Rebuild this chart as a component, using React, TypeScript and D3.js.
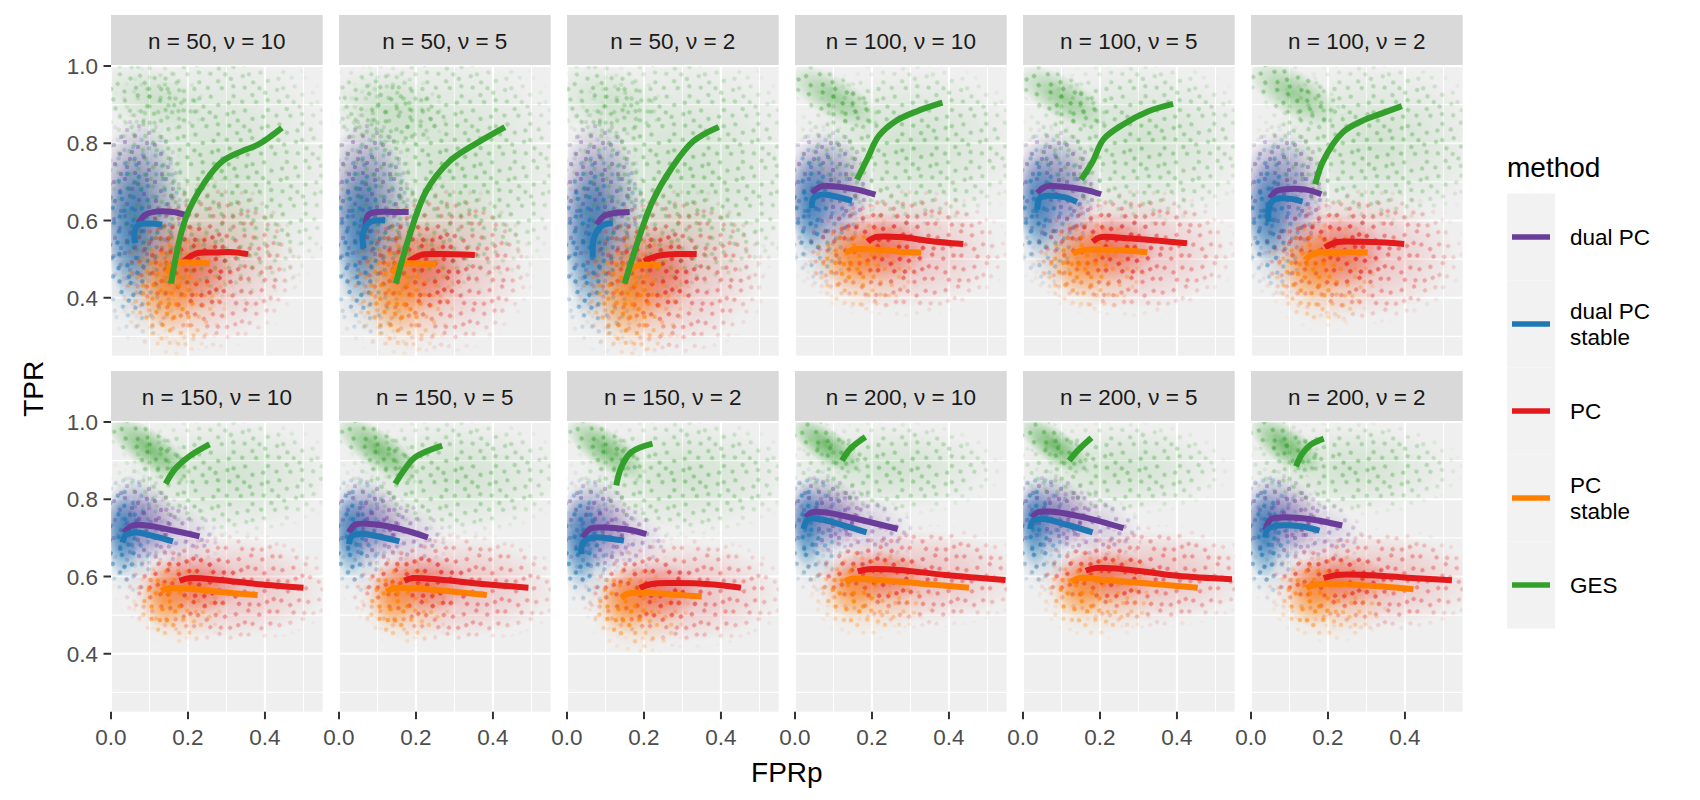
import * as d3 from 'd3'

// ---- data ----
const sampleSizes = [50, 50, 50, 100, 100, 100, 150, 150, 150, 200, 200, 200]
const nuValues = [10, 5, 2, 10, 5, 2, 10, 5, 2, 10, 5, 2]

const methodNames = ['dual PC', 'dual PC stable', 'PC', 'PC stable', 'GES']
const methodLabelLines = [['dual PC'], ['dual PC', 'stable'], ['PC'], ['PC', 'stable'], ['GES']]
const methodColors = ['#6A3D9A', '#1F78B4', '#E31A1C', '#FF7F00', '#33A02C']

const xTicks = [0, 0.2, 0.4]
const xMinor = [0.1, 0.3, 0.5]
const yTicks = [0.4, 0.6, 0.8, 1.0]
const yMinor = [0.3, 0.5, 0.7, 0.9]

// smoothed curves, one list of [FPRp, TPR] per facet
const lineDualPC: number[][][] = [
  [[0.072, 0.593], [0.089, 0.615], [0.117, 0.623], [0.161, 0.622], [0.192, 0.615]],
  [[0.068, 0.576], [0.076, 0.615], [0.098, 0.622], [0.142, 0.622], [0.181, 0.622]],
  [[0.078, 0.589], [0.094, 0.61], [0.122, 0.619], [0.163, 0.622]],
  [[0.044, 0.671], [0.067, 0.688], [0.106, 0.688], [0.161, 0.68], [0.209, 0.667]],
  [[0.037, 0.671], [0.059, 0.688], [0.098, 0.688], [0.159, 0.68], [0.203, 0.668]],
  [[0.05, 0.658], [0.064, 0.675], [0.092, 0.681], [0.142, 0.68], [0.183, 0.668]],
  [[0.033, 0.714], [0.056, 0.732], [0.094, 0.732], [0.161, 0.719], [0.23, 0.704]],
  [[0.026, 0.714], [0.042, 0.734], [0.081, 0.736], [0.159, 0.723], [0.231, 0.701]],
  [[0.041, 0.701], [0.059, 0.723], [0.089, 0.727], [0.15, 0.723], [0.206, 0.71]],
  [[0.028, 0.753], [0.044, 0.766], [0.078, 0.766], [0.161, 0.749], [0.267, 0.723]],
  [[0.024, 0.753], [0.037, 0.766], [0.07, 0.768], [0.159, 0.753], [0.261, 0.725]],
  [[0.037, 0.719], [0.052, 0.749], [0.083, 0.753], [0.15, 0.749], [0.237, 0.732]],
]
const lineDualPCStable: number[][][] = [
  [[0.063, 0.541], [0.061, 0.571], [0.072, 0.589], [0.1, 0.592], [0.133, 0.589]],
  [[0.064, 0.528], [0.062, 0.563], [0.076, 0.593], [0.098, 0.6], [0.12, 0.6]],
  [[0.067, 0.506], [0.069, 0.55], [0.083, 0.58], [0.1, 0.591], [0.119, 0.593]],
  [[0.044, 0.632], [0.048, 0.658], [0.072, 0.667], [0.111, 0.661], [0.148, 0.651]],
  [[0.037, 0.628], [0.044, 0.658], [0.07, 0.664], [0.109, 0.66], [0.14, 0.648]],
  [[0.046, 0.597], [0.048, 0.64], [0.064, 0.656], [0.103, 0.656], [0.134, 0.649]],
  [[0.03, 0.688], [0.039, 0.708], [0.067, 0.714], [0.117, 0.703], [0.161, 0.691]],
  [[0.026, 0.684], [0.033, 0.705], [0.059, 0.711], [0.114, 0.701], [0.157, 0.691]],
  [[0.037, 0.658], [0.042, 0.688], [0.067, 0.701], [0.111, 0.698], [0.148, 0.693]],
  [[0.022, 0.723], [0.033, 0.747], [0.061, 0.749], [0.128, 0.732], [0.186, 0.714]],
  [[0.019, 0.723], [0.026, 0.744], [0.053, 0.749], [0.114, 0.734], [0.181, 0.714]],
  [[0.037, 0.701], [0.044, 0.723], [0.072, 0.732], [0.128, 0.73], [0.178, 0.719]],
]
const linePC: number[][][] = [
  [[0.189, 0.494], [0.222, 0.515], [0.272, 0.517], [0.317, 0.518], [0.356, 0.513]],
  [[0.181, 0.494], [0.214, 0.511], [0.259, 0.513], [0.353, 0.511]],
  [[0.2, 0.494], [0.233, 0.508], [0.283, 0.513], [0.337, 0.513]],
  [[0.189, 0.545], [0.206, 0.556], [0.272, 0.557], [0.35, 0.547], [0.437, 0.539]],
  [[0.181, 0.545], [0.201, 0.557], [0.27, 0.554], [0.348, 0.548], [0.426, 0.541]],
  [[0.192, 0.53], [0.22, 0.543], [0.281, 0.545], [0.348, 0.543], [0.398, 0.539]],
  [[0.178, 0.589], [0.206, 0.596], [0.283, 0.591], [0.383, 0.58], [0.5, 0.571]],
  [[0.17, 0.589], [0.192, 0.596], [0.27, 0.591], [0.381, 0.58], [0.492, 0.571]],
  [[0.189, 0.57], [0.217, 0.58], [0.272, 0.583], [0.372, 0.58], [0.452, 0.571]],
  [[0.163, 0.613], [0.191, 0.619], [0.269, 0.617], [0.391, 0.604], [0.547, 0.591]],
  [[0.163, 0.615], [0.19, 0.622], [0.279, 0.617], [0.4, 0.602], [0.543, 0.593]],
  [[0.189, 0.596], [0.222, 0.604], [0.294, 0.604], [0.406, 0.597], [0.522, 0.59]],
]
const linePCStable: number[][][] = [
  [[0.144, 0.463], [0.172, 0.489], [0.217, 0.491], [0.256, 0.489]],
  [[0.137, 0.463], [0.164, 0.487], [0.203, 0.489], [0.253, 0.487]],
  [[0.15, 0.442], [0.167, 0.476], [0.194, 0.485], [0.244, 0.483]],
  [[0.133, 0.518], [0.161, 0.526], [0.217, 0.524], [0.272, 0.519], [0.328, 0.517]],
  [[0.131, 0.515], [0.159, 0.524], [0.22, 0.524], [0.27, 0.522], [0.323, 0.518]],
  [[0.142, 0.498], [0.164, 0.515], [0.214, 0.518], [0.259, 0.518], [0.303, 0.517]],
  [[0.13, 0.563], [0.156, 0.57], [0.217, 0.567], [0.306, 0.558], [0.381, 0.552]],
  [[0.123, 0.561], [0.146, 0.57], [0.203, 0.569], [0.292, 0.561], [0.384, 0.552]],
  [[0.141, 0.545], [0.161, 0.556], [0.217, 0.557], [0.294, 0.552], [0.35, 0.548]],
  [[0.13, 0.587], [0.147, 0.594], [0.214, 0.591], [0.324, 0.582], [0.452, 0.571]],
  [[0.126, 0.587], [0.148, 0.596], [0.214, 0.591], [0.326, 0.582], [0.454, 0.571]],
  [[0.144, 0.57], [0.172, 0.58], [0.239, 0.58], [0.339, 0.574], [0.422, 0.567]],
]
const lineGES: number[][][] = [
  [[0.156, 0.437], [0.194, 0.606], [0.244, 0.7], [0.289, 0.753], [0.339, 0.779], [0.383, 0.797], [0.444, 0.84]],
  [[0.148, 0.437], [0.181, 0.554], [0.226, 0.675], [0.287, 0.753], [0.359, 0.801], [0.431, 0.842]],
  [[0.15, 0.437], [0.178, 0.528], [0.222, 0.649], [0.272, 0.736], [0.328, 0.805], [0.394, 0.842]],
  [[0.161, 0.706], [0.189, 0.762], [0.217, 0.818], [0.261, 0.857], [0.317, 0.883], [0.383, 0.905]],
  [[0.151, 0.706], [0.181, 0.753], [0.209, 0.81], [0.259, 0.848], [0.326, 0.883], [0.39, 0.902]],
  [[0.167, 0.694], [0.187, 0.753], [0.237, 0.827], [0.287, 0.857], [0.331, 0.874], [0.392, 0.896]],
  [[0.142, 0.84], [0.167, 0.879], [0.206, 0.913], [0.256, 0.942]],
  [[0.146, 0.84], [0.168, 0.874], [0.198, 0.909], [0.268, 0.939]],
  [[0.128, 0.836], [0.141, 0.883], [0.167, 0.922], [0.222, 0.944]],
  [[0.122, 0.9], [0.144, 0.931], [0.183, 0.961]],
  [[0.12, 0.9], [0.142, 0.926], [0.178, 0.959]],
  [[0.117, 0.885], [0.133, 0.918], [0.156, 0.942], [0.189, 0.957]],
]

// point clouds, estimated as density blobs:
// [facet, centre FPRp, centre TPR, half-width, half-height, density, tilt deg]
const cloudDualPC: number[][] = [
  [0, 0.07, 0.65, 0.11, 0.21, 0.7, 0], [1, 0.07, 0.65, 0.11, 0.21, 0.7, 0], [2, 0.08, 0.64, 0.11, 0.22, 0.7, 0],
  [3, 0.08, 0.68, 0.12, 0.15, 0.7, 0], [4, 0.08, 0.68, 0.12, 0.15, 0.7, 0], [5, 0.08, 0.67, 0.12, 0.16, 0.7, 0],
  [6, 0.07, 0.74, 0.1, 0.11, 0.65, 0], [7, 0.07, 0.74, 0.1, 0.11, 0.65, 0], [8, 0.07, 0.73, 0.1, 0.12, 0.65, 0],
  [9, 0.07, 0.76, 0.11, 0.1, 0.65, 0], [10, 0.07, 0.76, 0.11, 0.1, 0.65, 0], [11, 0.07, 0.75, 0.11, 0.11, 0.65, 0],
  [6, 0.14, 0.72, 0.14, 0.08, 0.3, 15], [7, 0.14, 0.72, 0.14, 0.08, 0.3, 15], [8, 0.13, 0.71, 0.13, 0.08, 0.3, 15],
  [9, 0.15, 0.74, 0.16, 0.08, 0.3, 15], [10, 0.15, 0.74, 0.16, 0.08, 0.3, 15], [11, 0.14, 0.73, 0.15, 0.08, 0.3, 15],
]
const cloudDualPCStable: number[][] = [
  [0, 0.055, 0.57, 0.065, 0.19, 0.85, 0], [0, 0.08, 0.57, 0.12, 0.26, 0.35, 0],
  [1, 0.055, 0.56, 0.065, 0.19, 0.85, 0], [1, 0.08, 0.56, 0.12, 0.26, 0.35, 0],
  [2, 0.06, 0.55, 0.07, 0.2, 0.85, 0], [2, 0.09, 0.55, 0.12, 0.26, 0.35, 0],
  [3, 0.04, 0.64, 0.05, 0.13, 0.85, 0], [3, 0.07, 0.63, 0.1, 0.19, 0.35, 0],
  [4, 0.04, 0.64, 0.05, 0.13, 0.85, 0], [4, 0.07, 0.63, 0.1, 0.19, 0.35, 0],
  [5, 0.045, 0.62, 0.055, 0.14, 0.85, 0], [5, 0.07, 0.62, 0.1, 0.2, 0.35, 0],
  [6, 0.03, 0.71, 0.045, 0.11, 0.85, 0], [6, 0.05, 0.71, 0.08, 0.15, 0.35, 0],
  [7, 0.03, 0.71, 0.045, 0.11, 0.85, 0], [7, 0.05, 0.71, 0.08, 0.15, 0.35, 0],
  [8, 0.035, 0.69, 0.05, 0.12, 0.85, 0], [8, 0.05, 0.69, 0.08, 0.16, 0.35, 0],
  [9, 0.03, 0.73, 0.04, 0.11, 0.85, 0], [9, 0.05, 0.72, 0.08, 0.15, 0.35, 0],
  [10, 0.03, 0.73, 0.04, 0.11, 0.85, 0], [10, 0.05, 0.72, 0.08, 0.15, 0.35, 0],
  [11, 0.035, 0.71, 0.045, 0.12, 0.85, 0], [11, 0.05, 0.71, 0.08, 0.16, 0.35, 0],
]
const cloudPC: number[][] = [
  [0, 0.2, 0.48, 0.12, 0.12, 0.6, 0], [0, 0.25, 0.49, 0.22, 0.2, 0.3, 0],
  [1, 0.21, 0.48, 0.12, 0.12, 0.6, 0], [1, 0.26, 0.48, 0.22, 0.2, 0.3, 0],
  [2, 0.22, 0.47, 0.12, 0.12, 0.6, 0], [2, 0.27, 0.47, 0.23, 0.2, 0.3, 0],
  [3, 0.22, 0.53, 0.13, 0.09, 0.6, 0], [3, 0.28, 0.52, 0.25, 0.15, 0.3, 0],
  [4, 0.22, 0.53, 0.13, 0.09, 0.6, 0], [4, 0.28, 0.52, 0.25, 0.15, 0.3, 0],
  [5, 0.22, 0.52, 0.13, 0.1, 0.6, 0], [5, 0.28, 0.51, 0.25, 0.16, 0.3, 0],
  [6, 0.21, 0.58, 0.13, 0.08, 0.6, 0], [6, 0.3, 0.57, 0.26, 0.13, 0.3, 0],
  [7, 0.21, 0.58, 0.13, 0.08, 0.6, 0], [7, 0.3, 0.57, 0.26, 0.13, 0.3, 0],
  [8, 0.22, 0.56, 0.13, 0.08, 0.6, 0], [8, 0.3, 0.56, 0.25, 0.13, 0.3, 0],
  [9, 0.21, 0.6, 0.14, 0.07, 0.6, 0], [9, 0.32, 0.6, 0.27, 0.12, 0.3, 0],
  [10, 0.21, 0.6, 0.14, 0.07, 0.6, 0], [10, 0.32, 0.6, 0.27, 0.12, 0.3, 0],
  [11, 0.22, 0.59, 0.14, 0.07, 0.6, 0], [11, 0.32, 0.59, 0.27, 0.12, 0.3, 0],
]
const cloudPCStable: number[][] = [
  [0, 0.15, 0.43, 0.08, 0.12, 0.65, 0], [0, 0.17, 0.43, 0.14, 0.17, 0.3, 0],
  [1, 0.15, 0.42, 0.08, 0.12, 0.65, 0], [1, 0.17, 0.43, 0.14, 0.17, 0.3, 0],
  [2, 0.16, 0.41, 0.08, 0.12, 0.65, 0], [2, 0.18, 0.42, 0.14, 0.17, 0.3, 0],
  [3, 0.15, 0.5, 0.08, 0.08, 0.65, 0], [3, 0.18, 0.49, 0.14, 0.12, 0.3, 0],
  [4, 0.15, 0.49, 0.08, 0.08, 0.65, 0], [4, 0.18, 0.49, 0.14, 0.12, 0.3, 0],
  [5, 0.16, 0.48, 0.08, 0.09, 0.65, 0], [5, 0.19, 0.47, 0.14, 0.14, 0.3, 0],
  [6, 0.14, 0.54, 0.06, 0.08, 0.65, 0], [6, 0.18, 0.54, 0.12, 0.11, 0.3, 0],
  [7, 0.14, 0.54, 0.06, 0.08, 0.65, 0], [7, 0.18, 0.54, 0.12, 0.11, 0.3, 0],
  [8, 0.15, 0.53, 0.07, 0.08, 0.65, 0], [8, 0.19, 0.52, 0.13, 0.11, 0.3, 0],
  [9, 0.15, 0.56, 0.07, 0.07, 0.65, 0], [9, 0.2, 0.56, 0.15, 0.11, 0.3, 0],
  [10, 0.15, 0.56, 0.07, 0.07, 0.65, 0], [10, 0.2, 0.56, 0.15, 0.11, 0.3, 0],
  [11, 0.16, 0.55, 0.07, 0.08, 0.65, 0], [11, 0.21, 0.55, 0.15, 0.11, 0.3, 0],
]
const cloudGES: number[][] = [
  [0, 0.1, 0.92, 0.14, 0.08, 0.2, 15], [0, 0.28, 0.72, 0.3, 0.32, 0.2, 0],
  [1, 0.12, 0.89, 0.15, 0.1, 0.2, 15], [1, 0.28, 0.73, 0.3, 0.3, 0.2, 0],
  [2, 0.1, 0.91, 0.14, 0.09, 0.2, 15], [2, 0.3, 0.72, 0.3, 0.3, 0.2, 0],
  [3, 0.1, 0.92, 0.13, 0.055, 0.55, 30], [3, 0.3, 0.79, 0.28, 0.2, 0.2, 0],
  [4, 0.1, 0.92, 0.13, 0.055, 0.55, 30], [4, 0.3, 0.8, 0.28, 0.2, 0.2, 0],
  [5, 0.11, 0.93, 0.13, 0.06, 0.55, 30], [5, 0.32, 0.8, 0.28, 0.2, 0.2, 0],
  [6, 0.1, 0.93, 0.13, 0.05, 0.75, 35], [6, 0.3, 0.86, 0.27, 0.14, 0.2, 0],
  [7, 0.1, 0.93, 0.13, 0.05, 0.75, 35], [7, 0.3, 0.86, 0.27, 0.14, 0.2, 0],
  [8, 0.1, 0.93, 0.12, 0.05, 0.75, 35], [8, 0.3, 0.86, 0.27, 0.14, 0.2, 0],
  [9, 0.08, 0.94, 0.11, 0.045, 0.8, 35], [9, 0.25, 0.88, 0.26, 0.11, 0.2, 0],
  [10, 0.08, 0.94, 0.11, 0.045, 0.8, 35], [10, 0.25, 0.88, 0.26, 0.11, 0.2, 0],
  [11, 0.09, 0.94, 0.11, 0.05, 0.8, 35], [11, 0.26, 0.88, 0.26, 0.11, 0.2, 0],
]

const methodLines = [lineDualPC, lineDualPCStable, linePC, linePCStable, lineGES]
const methodClouds = [cloudDualPC, cloudDualPCStable, cloudPC, cloudPCStable, cloudGES]

// ---- layout ----
const W = 1700
const H = 800
const panelLeft = 111
const panelW = 211.7
const colStep = 228
const stripTops = [15, 371]
const stripH = 51
const panelH = 289.7
const font = '"Liberation Sans", Arial, Helvetica, sans-serif'

// speckle tile (texture only, gives the scattered-point look)
const speckleTile = { w: 41, h: 37 }
const speckleDots = [
  [3, 5], [14, 2], [27, 7], [36, 3], [9, 14], [21, 12], [33, 17], [4, 24],
  [16, 27], [28, 23], [38, 30], [10, 34], [24, 33], [19, 19],
]
const speckleTurn = [0, 23, 51, 77, 112]

export default function App() {
  const x = d3.scaleLinear().domain([0, 0.55]).range([0, panelW])
  const y = d3.scaleLinear().domain([0.25, 1.0]).range([panelH, 0])
  const line = d3
    .line<number[]>()
    .x((d) => x(d[0]))
    .y((d) => y(d[1]))
    .curve(d3.curveCatmullRom.alpha(0.5))

  const facets = sampleSizes.map((n, i) => ({
    i,
    label: `n = ${n}, ν = ${nuValues[i]}`,
    col: i % 6,
    row: Math.floor(i / 6),
  }))

  return (
    <svg
      width={W}
      height={H}
      style={{ position: 'absolute', left: 0, top: 0, background: '#fff' }}
      fontFamily={font}
    >
      <defs>
        {methodColors.map((c, m) => (
          <radialGradient key={`g${m}`} id={`core${m}`}>
            <stop offset="0" stopColor={c} stopOpacity={0.8} />
            <stop offset="0.5" stopColor={c} stopOpacity={0.45} />
            <stop offset="1" stopColor={c} stopOpacity={0} />
          </radialGradient>
        ))}
        {methodColors.map((c, m) => (
          <pattern
            key={`p${m}`}
            id={`dots${m}`}
            width={speckleTile.w}
            height={speckleTile.h}
            patternUnits="userSpaceOnUse"
            patternTransform={`rotate(${speckleTurn[m]}) translate(${m * 7},${m * 5})`}
          >
            {speckleDots.map((d, k) => (
              <circle key={k} cx={d[0]} cy={d[1]} r={2.2} fill={c} fillOpacity={0.6} />
            ))}
          </pattern>
        ))}
        <radialGradient id="fadeGrad">
          <stop offset="0" stopColor="#fff" stopOpacity={1} />
          <stop offset="0.7" stopColor="#fff" stopOpacity={0.65} />
          <stop offset="1" stopColor="#fff" stopOpacity={0} />
        </radialGradient>
        <mask id="fade" maskContentUnits="objectBoundingBox">
          <rect width={1} height={1} fill="url(#fadeGrad)" />
        </mask>
        <clipPath id="panelClip">
          <rect width={panelW} height={panelH} />
        </clipPath>
      </defs>

      {facets.map((f) => {
        const px = panelLeft + f.col * colStep
        const py = stripTops[f.row] + stripH
        return (
          <g key={f.i}>
            {/* strip */}
            <rect x={px} y={stripTops[f.row]} width={panelW} height={stripH} fill="#D9D9D9" />
            <text
              x={px + panelW / 2}
              y={stripTops[f.row] + stripH / 2 + 8}
              textAnchor="middle"
              fontSize={22.5}
              fill="#1A1A1A"
            >
              {f.label}
            </text>
            <g transform={`translate(${px},${py})`}>
              <rect width={panelW} height={panelH} fill="#EFEFEF" />
              {xMinor.map((t) => (
                <line key={`xm${t}`} x1={x(t)} x2={x(t)} y1={0} y2={panelH} stroke="#fff" strokeWidth={1.1} />
              ))}
              {yMinor.map((t) => (
                <line key={`ym${t}`} x1={0} x2={panelW} y1={y(t)} y2={y(t)} stroke="#fff" strokeWidth={1.1} />
              ))}
              {xTicks.map((t) => (
                <line key={`xM${t}`} x1={x(t)} x2={x(t)} y1={0} y2={panelH} stroke="#fff" strokeWidth={2.2} />
              ))}
              {yTicks.map((t) => (
                <line key={`yM${t}`} x1={0} x2={panelW} y1={y(t)} y2={y(t)} stroke="#fff" strokeWidth={2.2} />
              ))}
              <g clipPath="url(#panelClip)">
                {methodClouds.map((cl, m) =>
                  cl
                    .filter((b) => b[0] === f.i)
                    .map((b, k) => {
                      const cx = x(b[1])
                      const cy = y(b[2])
                      const rx = x(b[3]) - x(0)
                      const ry = y(0) - y(b[4])
                      return (
                        <g key={`c${m}-${k}`} transform={`rotate(${b[6]},${cx},${cy})`}>
                          <ellipse cx={cx} cy={cy} rx={rx} ry={ry} fill={`url(#core${m})`} opacity={b[5]} />
                          <ellipse
                            cx={cx}
                            cy={cy}
                            rx={rx * 1.15}
                            ry={ry * 1.15}
                            fill={`url(#dots${m})`}
                            mask="url(#fade)"
                            opacity={Math.min(1, b[5] + 0.5)}
                          />
                        </g>
                      )
                    }),
                )}
                {methodLines.map((ls, m) => (
                  <path
                    key={`l${m}`}
                    d={line(ls[f.i]) ?? ''}
                    fill="none"
                    stroke={methodColors[m]}
                    strokeWidth={6}
                    strokeLinejoin="round"
                  />
                ))}
              </g>
            </g>
            {/* y axis on the first column */}
            {f.col === 0 &&
              yTicks.map((t) => (
                <g key={`yt${t}`} transform={`translate(${px},${py + y(t)})`}>
                  <line x1={-7.5} x2={0} stroke="#333" strokeWidth={2} />
                  <text x={-13} dy={8} textAnchor="end" fontSize={22.5} fill="#4D4D4D">
                    {t.toFixed(1)}
                  </text>
                </g>
              ))}
            {/* x axis on the bottom row */}
            {f.row === 1 &&
              xTicks.map((t) => (
                <g key={`xt${t}`} transform={`translate(${px + x(t)},${py + panelH})`}>
                  <line y1={0} y2={7.5} stroke="#333" strokeWidth={2} />
                  <text y={33} textAnchor="middle" fontSize={22.5} fill="#4D4D4D">
                    {t.toFixed(1)}
                  </text>
                </g>
              ))}
          </g>
        )
      })}

      {/* axis titles */}
      <text
        x={(panelLeft + panelLeft + 5 * colStep + panelW) / 2}
        y={782}
        textAnchor="middle"
        fontSize={28}
        fill="#000"
      >
        FPRp
      </text>
      <text
        transform={`translate(43,${(stripTops[0] + stripH + stripTops[1] + stripH + panelH) / 2}) rotate(-90)`}
        textAnchor="middle"
        fontSize={28}
        fill="#000"
      >
        TPR
      </text>

      {/* legend */}
      <text x={1507} y={177} fontSize={28} fill="#000">
        method
      </text>
      {methodNames.map((name, m) => {
        const cy = 237 + m * 87
        return (
          <g key={name}>
            <rect x={1507} y={cy - 43.5} width={48} height={87} fill="#F2F2F2" />
            <line x1={1512} x2={1550} y1={cy} y2={cy} stroke={methodColors[m]} strokeWidth={5.5} />
            {methodLabelLines[m].map((s, k) => (
              <text
                key={k}
                x={1570}
                y={cy + 8 + (k - (methodLabelLines[m].length - 1) / 2) * 26}
                fontSize={22.5}
                fill="#000"
              >
                {s}
              </text>
            ))}
          </g>
        )
      })}
    </svg>
  )
}
